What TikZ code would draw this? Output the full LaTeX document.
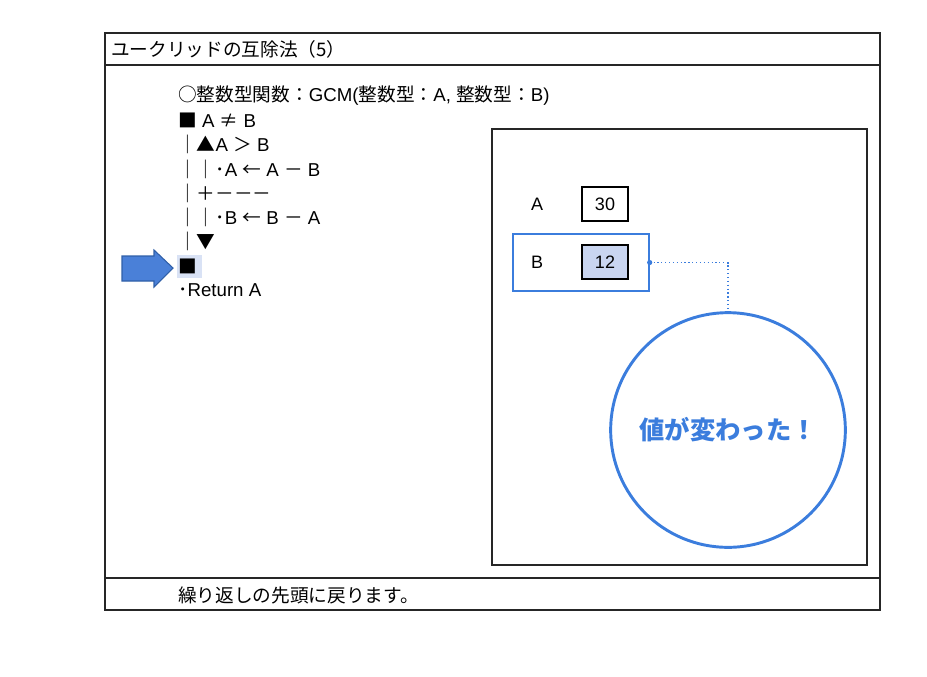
\documentclass[tikz,border=0pt]{standalone}
\usepackage{fontspec}
\setmainfont{Noto Sans CJK JP}
\newfontfamily\latinfont{Liberation Sans}
\newcommand{\lt}[1]{{\latinfont #1}}
\usetikzlibrary{calc}
\definecolor{bubbleblue}{HTML}{3B7DDD}
\definecolor{markblue}{HTML}{C9D5F0}
\definecolor{arrowblue}{HTML}{4A80D8}
\definecolor{arrowedge}{HTML}{2F5FA8}
\tikzset{
	codeline/.style={anchor=west,inner sep=0pt,font=\fontsize{14}{16}\selectfont},
	varname/.style={inner sep=0pt,font=\latinfont\fontsize{13.5}{15}\selectfont},
	valbox/.style={draw,line width=1.1pt,minimum width=34.5pt,minimum height=25.5pt,
		inner sep=0pt,font=\latinfont\fontsize{13.5}{15}\selectfont},
	frameline/.style={line width=1.1pt,draw=black!85}
}
\begin{document}
\begin{tikzpicture}[x=0.75pt,y=-0.75pt]
	\useasboundingbox (0,0) rectangle (927,676);

	% frames
	\draw[frameline] (105,33) rectangle (880,610);
	\draw[frameline] (105,65) -- (880,65);
	\draw[frameline] (105,578) -- (880,578);
	\draw[frameline] (492,129) rectangle (867,565);

	\node[codeline] (title) at (111,49) {ユークリッドの互除法（5）};
	\node[codeline] (note) at (178,595) {繰り返しの先頭に戻ります。};

	% current line marker
	\fill[markblue!70] (177,255) rectangle (202,278);
	\foreach \t [count=\i] in {{○整数型関数：\lt{GCM(}整数型：\lt{A, }整数型：\lt{B)}},
			{■\lt{ A }≠\lt{ B}},
			{｜▲\lt{A }＞\lt{ B}},
			{｜｜･\lt{A }←\lt{ A }－\lt{ B}},
			{｜＋－－－},
			{｜｜･\lt{B }←\lt{ B }－\lt{ A}},
			{｜▼},
			{■},
			{･\lt{Return A}}}
		\node[codeline] (line\i) at (178,{96+24.3*(\i-1)}) {\t};
	\draw[fill=arrowblue,draw=arrowedge,line width=0.8pt]
		(122,256) -- (154,256) -- (154,250) -- (173,268) -- (154,287)
		-- (154,281) -- (122,281) -- cycle;

	% variables
	\node[varname] (nameA) at (537,204) {A};
	\node[valbox] (valA) at (605,204) {30};
	\node[draw=bubbleblue,line width=1pt,minimum width=102pt,minimum height=42.75pt,
		inner sep=0pt] (frameB) at (581,262.5) {};
	\node[varname] (nameB) at (537,262) {B};
	\node[valbox,fill=markblue] (valB) at (605,262) {12};

	% comment bubble
	\node[circle,draw=bubbleblue,line width=2.2pt,minimum size=176pt,inner sep=0pt,
		text=bubbleblue,font=\bfseries\fontsize{19}{22}\selectfont] (bubble) at (728,430) {値が変わった！};
	\fill[bubbleblue] (frameB.east) circle (2.6);
	\draw[bubbleblue,dotted,line width=0.9pt] (frameB.east) -| (bubble.north);
\end{tikzpicture}
\end{document}
